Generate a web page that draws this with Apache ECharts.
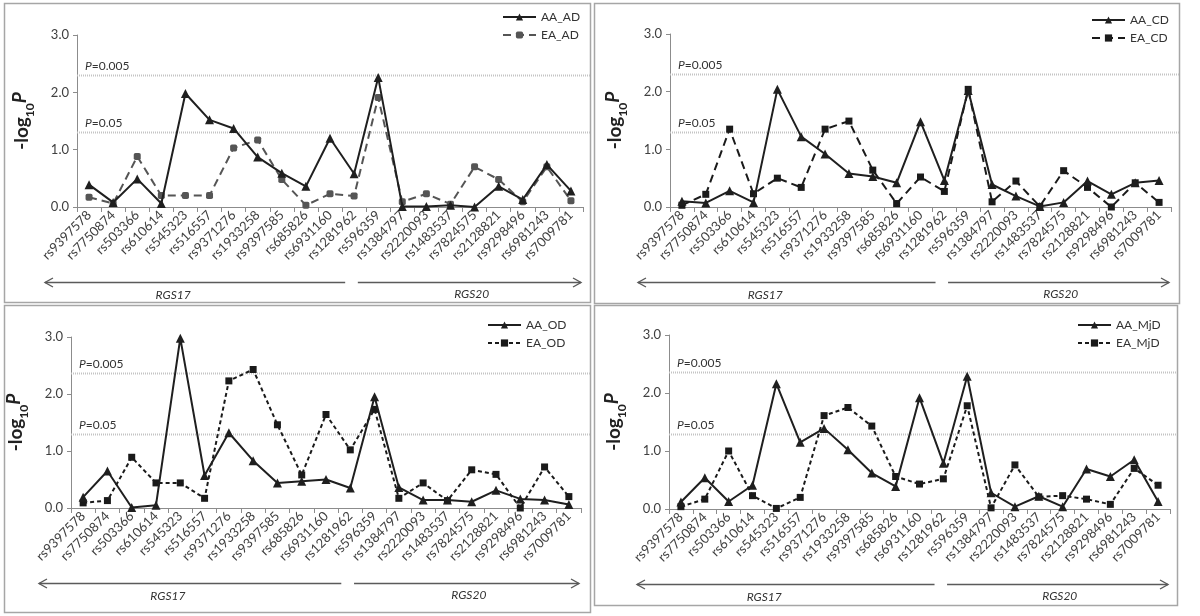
<!DOCTYPE html>
<html><head><meta charset="utf-8">
<script src="https://cdn.jsdelivr.net/npm/echarts@6/dist/echarts.min.js"></script>
<style>html,body{margin:0;padding:0;background:#fff}#c{width:1200px;height:616px}</style>
</head><body><div id="c"></div>
<script>
// ---------- data ----------
const categories = ['rs9397578','rs7750874','rs503366','rs610614','rs545323','rs516557','rs9371276','rs1933258','rs9397585','rs685826','rs6931160','rs1281962','rs596359','rs1384797','rs2220093','rs1483537','rs7824575','rs2128821','rs9298496','rs6981243','rs7009781'];
const aaAD  = [0.39,0.08,0.49,0.06,1.98,1.52,1.37,0.87,0.59,0.36,1.20,0.58,2.26,0.01,0.01,0.03,0.00,0.36,0.13,0.74,0.28];
const eaAD  = [0.17,0.06,0.88,0.20,0.20,0.20,1.03,1.17,0.48,0.03,0.23,0.19,1.91,0.09,0.23,0.05,0.70,0.48,0.09,0.70,0.11];
const aaCD  = [0.10,0.07,0.28,0.08,2.04,1.22,0.92,0.58,0.53,0.42,1.48,0.46,2.02,0.39,0.19,0.01,0.08,0.45,0.22,0.42,0.46];
const eaCD  = [0.03,0.22,1.35,0.23,0.50,0.34,1.35,1.49,0.64,0.06,0.52,0.27,2.04,0.09,0.45,0.01,0.63,0.34,0.00,0.42,0.08];
const aaOD  = [0.19,0.65,0.01,0.05,2.98,0.57,1.32,0.83,0.44,0.47,0.50,0.35,1.95,0.36,0.14,0.14,0.11,0.31,0.16,0.14,0.06];
const eaOD  = [0.09,0.13,0.89,0.44,0.44,0.17,2.23,2.43,1.46,0.58,1.64,1.02,1.73,0.17,0.44,0.13,0.67,0.59,0.00,0.72,0.20];
const aaMjD = [0.12,0.54,0.13,0.41,2.16,1.15,1.39,1.02,0.62,0.39,1.92,0.79,2.29,0.28,0.04,0.22,0.04,0.69,0.56,0.85,0.13];
const eaMjD = [0.04,0.17,1.00,0.23,0.01,0.20,1.61,1.75,1.43,0.56,0.43,0.52,1.78,0.02,0.76,0.21,0.23,0.17,0.08,0.70,0.41];
const seriesNames = [['AA_AD','EA_AD'],['AA_CD','EA_CD'],['AA_OD','EA_OD'],['AA_MjD','EA_MjD']];
const pLinesTop = [2.30, 1.30];
const pLinesBottom = [2.37, 1.30];
const pLabels = ['0.005', '0.05'];
const geneLabels = ['RGS17', 'RGS20'];
const yTickLabels = ['0.0','1.0','2.0','3.0'];

// ---------- layout / style ----------
const FONT = 'Lato, "Open Sans", sans-serif';
const panels = [
  {aa: aaAD,  ea: eaAD,  p: pLinesTop,    grid:{left:77, top:35, width:506, height:172}, box:[4,3,586,299],   legend:{left:497, top:6},   dash:[8,5], eaColor:'#555', eaSym:'roundRect', eaSize:7},
  {aa: aaCD,  ea: eaCD,  p: pLinesTop,    grid:{left:670,top:34, width:501, height:173}, box:[594,3,585,300], legend:{left:1086,top:9},   dash:[8,5], eaColor:'#1a1a1a', eaSym:'rect', eaSize:7},
  {aa: aaOD,  ea: eaOD,  p: pLinesBottom, grid:{left:71, top:337,width:510, height:171}, box:[4,305,586,307], legend:{left:482, top:314}, dash:[4,3], eaColor:'#1a1a1a', eaSym:'rect', eaSize:7},
  {aa: aaMjD, ea: eaMjD, p: pLinesBottom, grid:{left:669,top:335,width:501, height:174}, box:[594,305,583,300],legend:{left:1072,top:314}, dash:[4,3], eaColor:'#1a1a1a', eaSym:'rect', eaSize:7}
];

const chart = echarts.init(document.getElementById('c'), null, {renderer:'canvas'});
const option = {
  backgroundColor:'#fff',
  animation:false,
  textStyle:{fontFamily:FONT},
  grid: panels.map(p => Object.assign({containLabel:false}, p.grid)),
  legend: panels.map((p,i) => ({
    data: seriesNames[i], orient:'vertical', left:p.legend.left, top:p.legend.top,
    itemWidth:33, itemHeight:9, itemGap:6,
    textStyle:{fontFamily:FONT, fontSize:12, color:'#333'}
  })),
  xAxis: panels.map((p,i) => ({
    type:'category', gridIndex:i, data:categories, boundaryGap:true,
    axisLine:{lineStyle:{color:'#8c8c8c', width:1}},
    axisTick:{show:true, inside:false, length:5, lineStyle:{color:'#8c8c8c'}},
    axisLabel:{interval:0, rotate:45, margin:6, fontSize:13, color:'#404040', fontFamily:FONT},
    splitLine:{show:false}
  })),
  yAxis: panels.map((p,i) => ({
    type:'value', gridIndex:i, min:0, max:3, interval:1,
    axisLine:{show:true, lineStyle:{color:'#8c8c8c', width:1}},
    axisTick:{show:true, length:4, lineStyle:{color:'#8c8c8c'}},
    axisLabel:{margin:8, fontSize:13, color:'#404040', fontFamily:FONT, formatter:v => yTickLabels[Math.round(v)]},
    splitLine:{show:false},
    name:'{b|-log}{s|10}{p|P}', nameLocation:'middle', nameRotate:90, nameGap:41,
    nameTextStyle:{rich:{
      b:{fontSize:19, fontWeight:'bold', color:'#222', fontFamily:FONT, verticalAlign:'bottom', padding:[0,0,5,0]},
      s:{fontSize:12, fontWeight:'bold', color:'#222', fontFamily:FONT, verticalAlign:'bottom'},
      p:{fontSize:19, fontWeight:'bold', fontStyle:'italic', color:'#222', fontFamily:FONT, verticalAlign:'bottom', padding:[0,0,7,0]}
    }}
  })),
  series: []
};
panels.forEach((p,i) => {
  option.series.push({
    name: seriesNames[i][0], type:'line', xAxisIndex:i, yAxisIndex:i, data:p.aa,
    symbol:'triangle', symbolSize:9, z:3,
    lineStyle:{color:'#1f1f1f', width:2, type:'solid'},
    itemStyle:{color:'#1f1f1f'}
  });
  option.series.push({
    name: seriesNames[i][1], type:'line', xAxisIndex:i, yAxisIndex:i, data:p.ea,
    symbol:p.eaSym, symbolSize:p.eaSize, z:2,
    lineStyle:{color:p.eaColor, width:2, type:p.dash},
    itemStyle:{color:p.eaColor}
  });
});
chart.setOption(option);

// ---------- annotations positioned through the axes ----------
const graphics = [];
panels.forEach((p,i) => {
  const [bx,by,bw,bh] = p.box;
  graphics.push({type:'rect', shape:{x:bx+0.5,y:by+0.5,width:bw,height:bh}, style:{fill:'none', stroke:'#a6a6a6', lineWidth:1.5}, z:0});
  const gx1 = p.grid.left + p.grid.width;
  const right = bx + bw;
  p.p.forEach((v,k) => {
    const y = Math.round(chart.convertToPixel({yAxisIndex:i}, v)) + 0.5;
    graphics.push({type:'line', shape:{x1:p.grid.left, y1:y, x2:right, y2:y}, style:{stroke:'#c4c4c4', lineWidth:2, lineDash:[1,1]}, z:1});
    graphics.push({type:'text', x:p.grid.left+8, y:y-3, style:{
      text:'{i|P}{n|=' + pLabels[k] + '}', textVerticalAlign:'bottom',
      rich:{i:{fontStyle:'italic', fontSize:12, fontFamily:FONT, fill:'#333'}, n:{fontSize:12, fontFamily:FONT, fill:'#333'}}
    }, z:4});
  });
  // gene arrows
  const yBottom = p.grid.top + p.grid.height;
  const ay = yBottom + 75.5;
  const x0 = p.grid.left - 32;
  const xm1 = p.grid.left + p.grid.width*0.53;
  const xm2 = p.grid.left + p.grid.width*0.555;
  const x3 = gx1 - 2;
  const head = 8, hh = 4.5;
  const st = {stroke:'#5a5a5a', lineWidth:1.4, fill:'none'};
  graphics.push({type:'line', shape:{x1:x0, y1:ay, x2:xm1, y2:ay}, style:st});
  graphics.push({type:'polyline', shape:{points:[[x0+head, ay-hh],[x0, ay],[x0+head, ay+hh]]}, style:st});
  graphics.push({type:'line', shape:{x1:xm2, y1:ay, x2:x3, y2:ay}, style:st});
  graphics.push({type:'polyline', shape:{points:[[x3-head, ay-hh],[x3, ay],[x3-head, ay+hh]]}, style:st});
  graphics.push({type:'text', x:p.grid.left + p.grid.width*0.19, y:ay+13, style:{text:geneLabels[0], fontStyle:'italic', fontSize:12, fontFamily:FONT, fill:'#333', textAlign:'center', textVerticalAlign:'middle'}});
  graphics.push({type:'text', x:p.grid.left + p.grid.width*0.78, y:ay+12, style:{text:geneLabels[1], fontStyle:'italic', fontSize:12, fontFamily:FONT, fill:'#333', textAlign:'center', textVerticalAlign:'middle'}});
});
chart.setOption({graphic: graphics});
</script>
</body></html>
